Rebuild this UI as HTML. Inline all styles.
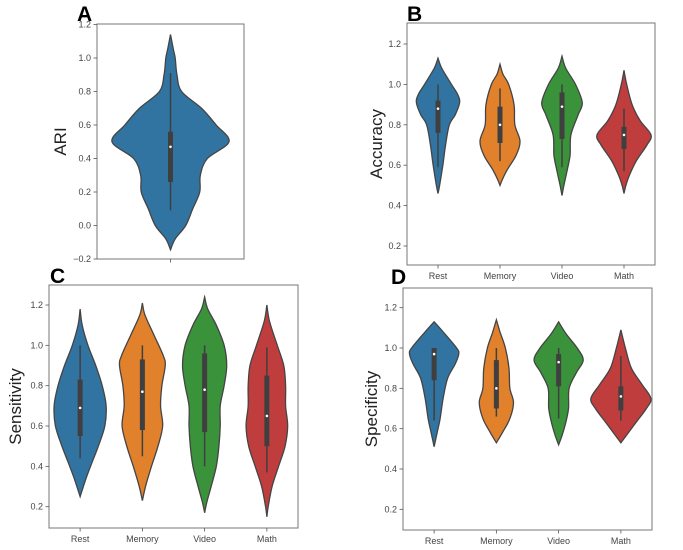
<!DOCTYPE html>
<html><head><meta charset="utf-8">
<style>
html,body{margin:0;padding:0;background:#fff;}
svg{display:block;font-family:"Liberation Sans","DejaVu Sans",sans-serif;}
</style></head>
<body>
<svg id="fig" width="683" height="550" viewBox="0 0 683 550"></svg>
<script>
const categories = ["Rest","Memory","Video","Math"];
const colors = ["#3274a1","#e1812c","#3a923a","#c03d3e"];
const yTicks = [0.2,0.4,0.6,0.8,1.0,1.2];
const yTicksA = [-0.2,0.0,0.2,0.4,0.6,0.8,1.0,1.2];

// Violin profiles: [value, relative density]
const ariProfile = [[1.14,0],[1.05,0.05],[1.0,0.08],[0.9,0.11],[0.8,0.19],[0.7,0.53],[0.6,0.78],[0.5,1.0],[0.4,0.63],[0.3,0.51],[0.2,0.5],[0.1,0.38],[0.0,0.26],[-0.08,0.08],[-0.145,0]];
const ariBox = [0.09,0.26,0.47,0.56,0.91]; // whisker-low, q1, median, q3, whisker-high

const accProfiles = [
 [[1.13,0],[1.08,0.14],[1.0,0.5],[0.95,0.73],[0.91,0.8],[0.85,0.64],[0.8,0.42],[0.7,0.28],[0.6,0.18],[0.5,0.06],[0.46,0]],
 [[1.1,0],[1.05,0.11],[1.0,0.32],[0.9,0.52],[0.8,0.55],[0.72,0.74],[0.65,0.6],[0.58,0.28],[0.53,0.09],[0.5,0]],
 [[1.14,0],[1.08,0.14],[1.0,0.5],[0.91,0.75],[0.85,0.6],[0.75,0.33],[0.65,0.3],[0.58,0.2],[0.5,0.07],[0.45,0]],
 [[1.07,0],[1.0,0.1],[0.9,0.3],[0.82,0.6],[0.75,1.0],[0.7,0.85],[0.62,0.45],[0.55,0.2],[0.5,0.07],[0.46,0]]
];
const accBoxes = [[0.59,0.76,0.88,0.92,1.0],[0.62,0.71,0.8,0.89,0.98],[0.59,0.73,0.89,0.96,1.0],[0.57,0.68,0.75,0.79,0.88]];

const senProfiles = [
 [[1.18,0],[1.1,0.08],[1.0,0.3],[0.9,0.6],[0.8,0.85],[0.7,1.0],[0.6,0.95],[0.5,0.7],[0.4,0.4],[0.33,0.2],[0.25,0]],
 [[1.21,0],[1.15,0.1],[1.05,0.45],[0.95,0.8],[0.9,0.88],[0.8,0.75],[0.7,0.7],[0.6,0.78],[0.5,0.6],[0.4,0.35],[0.3,0.12],[0.23,0]],
 [[1.24,0],[1.18,0.12],[1.1,0.45],[1.0,0.75],[0.9,0.85],[0.8,0.75],[0.7,0.6],[0.6,0.6],[0.5,0.55],[0.4,0.45],[0.3,0.25],[0.22,0.08],[0.17,0]],
 [[1.2,0],[1.12,0.1],[1.0,0.4],[0.9,0.65],[0.8,0.72],[0.7,0.72],[0.6,0.8],[0.5,0.7],[0.4,0.45],[0.3,0.2],[0.2,0.05],[0.15,0]]
];
const senBoxes = [[0.44,0.55,0.69,0.83,1.0],[0.45,0.58,0.77,0.93,1.0],[0.4,0.57,0.78,0.96,1.0],[0.37,0.5,0.65,0.85,0.99]];

const speProfiles = [
 [[1.13,0],[1.08,0.3],[1.0,0.75],[0.97,0.82],[0.92,0.7],[0.85,0.45],[0.75,0.3],[0.65,0.2],[0.58,0.1],[0.51,0]],
 [[1.14,0],[1.08,0.12],[1.0,0.3],[0.9,0.42],[0.8,0.45],[0.73,0.57],[0.65,0.45],[0.58,0.2],[0.53,0]],
 [[1.13,0],[1.07,0.25],[1.0,0.62],[0.94,0.82],[0.88,0.6],[0.8,0.35],[0.7,0.33],[0.62,0.22],[0.56,0.1],[0.52,0]],
 [[1.09,0],[1.0,0.15],[0.9,0.35],[0.82,0.7],[0.75,1.0],[0.7,0.85],[0.63,0.5],[0.57,0.2],[0.53,0]]
];
const speBoxes = [[0.64,0.84,0.97,1.0,1.0],[0.66,0.7,0.8,0.94,1.0],[0.65,0.81,0.93,0.97,1.0],[0.64,0.69,0.76,0.81,0.96]];

const NS = "http://www.w3.org/2000/svg";
const svg = document.getElementById("fig");
function mk(tag, attrs, parent){
  const e = document.createElementNS(NS, tag);
  for (const k in attrs) e.setAttribute(k, attrs[k]);
  (parent||svg).appendChild(e);
  return e;
}
function smooth(pts){
  let d = "M"+pts[0][0].toFixed(2)+","+pts[0][1].toFixed(2);
  for (let i=0;i<pts.length-1;i++){
    const p0=pts[Math.max(0,i-1)], p1=pts[i], p2=pts[i+1], p3=pts[Math.min(pts.length-1,i+2)];
    const c1=[p1[0]+(p2[0]-p0[0])/6, p1[1]+(p2[1]-p0[1])/6];
    const c2=[p2[0]-(p3[0]-p1[0])/6, p2[1]-(p3[1]-p1[1])/6];
    d+=" C"+c1[0].toFixed(2)+","+c1[1].toFixed(2)+" "+c2[0].toFixed(2)+","+c2[1].toFixed(2)+" "+p2[0].toFixed(2)+","+p2[1].toFixed(2);
  }
  return d;
}
function panel(cfg){
  const g = mk("g",{});
  
  
  const [t1v,t1y,t2v,t2y] = cfg.ref;
  const y = v => t1y + (v - t1v)*(t2y - t1y)/(t2v - t1v);
  const n = cfg.cats.length;
  const step = (cfg.x1 - cfg.x0)/n;
  const x = i => cfg.x0 + step*(i+0.5);
  // violins
  cfg.profiles.forEach((prof,i)=>{
    const cx = x(i);
    const right = prof.map(p=>[cx + p[1]*cfg.maxHalf, y(p[0])]);
    const left = prof.slice().reverse().map(p=>[cx - p[1]*cfg.maxHalf, y(p[0])]);
    const d = smooth(right) + " L" + smooth(left).slice(1) + " Z";
    const v = mk("path",{d:d, fill:cfg.colors[i], stroke:"#444", "stroke-width":1.3}, g);
    
    
    const b = cfg.boxes[i];
    const w = mk("line",{x1:cx,x2:cx,y1:y(b[0]),y2:y(b[4]),stroke:"#3f3f3f","stroke-width":1.5}, g);
    
    
    const bx = mk("rect",{x:cx-2.5,width:5,y:y(b[3]),height:y(b[1])-y(b[3]),fill:"#3f3f3f"}, g);
    
    
    const m = mk("circle",{cx:cx,cy:y(b[2]),r:1.3,fill:"#fff"}, g);
    
    
  });
  // frame
  const fr = mk("rect",{x:cfg.x0,y:cfg.yt,width:cfg.x1-cfg.x0,height:cfg.yb-cfg.yt,fill:"none",stroke:"#777","stroke-width":1}, g);
  
  
  // y ticks
  cfg.ticks.forEach(t=>{
    const yy = y(t);
    mk("line",{x1:cfg.x0-3.5,x2:cfg.x0,y1:yy,y2:yy,stroke:"#555","stroke-width":0.8}, g);
    const lb = mk("text",{x:cfg.x0-6,y:yy+3,"text-anchor":"end","font-size":9,fill:"#444"}, g);
    lb.textContent = (t<0?"\u22120.":"")+(t<0?(Math.abs(t)*10).toFixed(0):t.toFixed(1));
    
    
  });
  // x ticks
  cfg.cats.forEach((c,i)=>{
    mk("line",{x1:x(i),x2:x(i),y1:cfg.yb,y2:cfg.yb+3.5,stroke:"#555","stroke-width":0.8}, g);
    if (c){
      const lb = mk("text",{x:x(i),y:cfg.yb+14,"text-anchor":"middle","font-size":9,fill:"#444"}, g);
      lb.textContent = c;
      
      
    }
  });
  // y label
  const yl = mk("text",{x:0,y:0,"text-anchor":"middle","font-size":17,fill:"#222",transform:"translate("+cfg.ylx+","+((cfg.yt+cfg.yb)/2)+") rotate(-90)"}, g);
  yl.textContent = cfg.ylabel;
  
  
  const L = mk("text",{x:cfg.lx,y:cfg.ly,"font-size":21,"font-weight":"bold",fill:"#000"}, g);
  L.textContent = cfg.letter;
  
  
}

panel({name:"panel-a-ari", x0:97,x1:244,yt:24,yb:259, ref:[1.2,24.5,-0.2,259], ticks:yTicksA,
  cats:[""], colors:[colors[0]], profiles:[ariProfile], boxes:[ariBox], maxHalf:58.5,
  ylabel:"ARI", ylx:66, letter:"A", lx:77, ly:21});
panel({name:"panel-b-accuracy", x0:407,x1:655,yt:23,yb:265, ref:[1.2,44,0.2,246], ticks:yTicks,
  cats:categories, colors:colors, profiles:accProfiles, boxes:accBoxes, maxHalf:27,
  ylabel:"Accuracy", ylx:382, letter:"B", lx:407, ly:21});
panel({name:"panel-c-sensitivity", x0:49,x1:298,yt:285,yb:528, ref:[1.2,305,0.2,506.7], ticks:yTicks,
  cats:categories, colors:colors, profiles:senProfiles, boxes:senBoxes, maxHalf:26,
  ylabel:"Sensitivity", ylx:21, letter:"C", lx:50, ly:283});
panel({name:"panel-d-specificity", x0:403,x1:652,yt:288,yb:530, ref:[1.2,307.7,0.2,509.3], ticks:yTicks,
  cats:categories, colors:colors, profiles:speProfiles, boxes:speBoxes, maxHalf:30,
  ylabel:"Specificity", ylx:377, letter:"D", lx:391, ly:284});
</script>
</body></html>
